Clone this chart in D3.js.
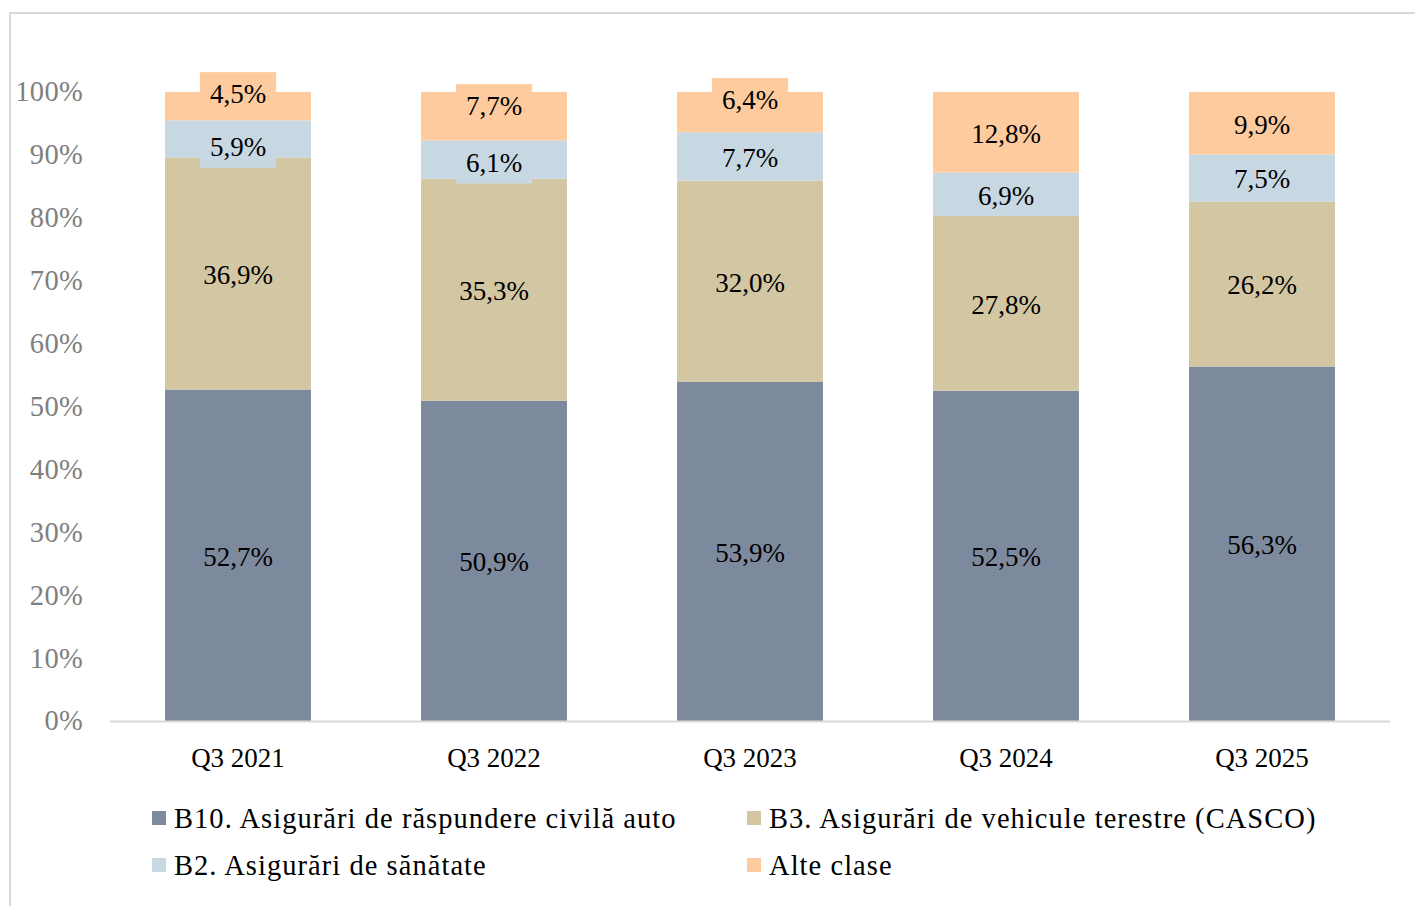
<!DOCTYPE html>
<html>
<head>
<meta charset="utf-8">
<script src="https://cdn.jsdelivr.net/npm/d3@7"></script>
<style>
  html, body { margin: 0; padding: 0; background: #ffffff; }
  svg { display: block; }
  text { font-family: "Liberation Serif", "DejaVu Serif", serif; }
</style>
</head>
<body>
<svg id="chart" width="1415" height="906"></svg>
<script>
// ---- data ----
const categories = ["Q3 2021", "Q3 2022", "Q3 2023", "Q3 2024", "Q3 2025"];
const seriesNames = [
  "B10. Asigurări de răspundere civilă auto",
  "B3. Asigurări de vehicule terestre (CASCO)",
  "B2. Asigurări de sănătate",
  "Alte clase"
];
const b10 = [52.7, 50.9, 53.9, 52.5, 56.3];
const b3 = [36.9, 35.3, 32.0, 27.8, 26.2];
const b2 = [5.9, 6.1, 7.7, 6.9, 7.5];
const alte = [4.5, 7.7, 6.4, 12.8, 9.9];
const yTicks = [0, 0.1, 0.2, 0.3, 0.4, 0.5, 0.6, 0.7, 0.8, 0.9, 1.0];

// ---- styles ----
const colors = ["#7d8a9d", "#d3c6a3", "#c8d8e3", "#fdcb9e"];
// manual label nudges (px) for small segments, keyed "series-category"
const labelNudge = { "3-0": -14, "2-0": 7, "3-1": -12, "2-1": 2, "3-2": -14 };

const svg = d3.select("#chart");

// frame lines
svg.append("line").attr("x1", 10).attr("x2", 1415).attr("y1", 13).attr("y2", 13)
  .attr("stroke", "#d9d9d9").attr("stroke-width", 2);
svg.append("line").attr("x1", 10).attr("x2", 10).attr("y1", 12).attr("y2", 906)
  .attr("stroke", "#d9d9d9").attr("stroke-width", 2);

const rows = categories.map((c, i) => ({ cat: c, s0: b10[i], s1: b3[i], s2: b2[i], s3: alte[i] }));
const keys = ["s0", "s1", "s2", "s3"];
const stacked = d3.stack().keys(keys).offset(d3.stackOffsetExpand)(rows);

const x = d3.scaleBand().domain(categories).range([110, 1390]).paddingInner(0.43).paddingOuter(0.215);
const y = d3.scaleLinear().domain([0, 1]).range([721, 92]);

// y tick labels
svg.append("g").selectAll("text").data(yTicks).join("text")
  .attr("x", 83).attr("y", d => y(d)).attr("dy", "0.33em")
  .attr("text-anchor", "end").attr("fill", "#7f7f7f")
  .style("font-size", "28.5px").style("letter-spacing", "0.3px")
  .text(d => Math.round(d * 100) + "%");

// bars
const g = svg.append("g");
stacked.forEach((layer, si) => {
  g.append("g").selectAll("rect").data(layer).join("rect")
    .attr("x", d => x(d.data.cat))
    .attr("width", x.bandwidth())
    .attr("y", d => y(d[1]))
    .attr("height", d => y(d[0]) - y(d[1]))
    .attr("fill", colors[si]);
});

// baseline
svg.append("line").attr("x1", 110).attr("x2", 1390).attr("y1", y(0) + 0.5).attr("y2", y(0) + 0.5)
  .attr("stroke", "#d9d9d9").attr("stroke-width", 2);

// data labels with filled boxes
const values = [b10, b3, b2, alte];
const lblG = svg.append("g");
stacked.forEach((layer, si) => {
  layer.forEach((d, ci) => {
    const cx = x(d.data.cat) + x.bandwidth() / 2;
    const cy = (y(d[0]) + y(d[1])) / 2 + 1 + (labelNudge[si + "-" + ci] || 0);
    const txt = values[si][ci].toFixed(1).replace(".", ",") + "%";
    const grp = lblG.append("g");
    const rect = grp.append("rect").attr("fill", colors[si]);
    const t = grp.append("text").attr("x", cx).attr("y", cy).attr("dy", "0.35em")
      .attr("text-anchor", "middle").attr("fill", "#000").style("font-size", "27px").text(txt);
    const w = t.node().getComputedTextLength() + 20;
    rect.attr("x", cx - w / 2).attr("y", cy - 21).attr("width", w).attr("height", 42);
  });
});

// x axis labels
svg.append("g").selectAll("text").data(categories).join("text")
  .attr("x", d => x(d) + x.bandwidth() / 2).attr("y", 758).attr("dy", "0.35em")
  .attr("text-anchor", "middle").attr("fill", "#000").style("font-size", "27px")
  .text(d => d);

// legend
const legendPos = [[152, 818], [747, 818], [152, 865], [747, 865]];
const lg = svg.append("g");
seriesNames.forEach((n, i) => {
  const [lx, ly] = legendPos[i];
  lg.append("rect").attr("x", lx).attr("y", ly - 7).attr("width", 14).attr("height", 14).attr("fill", colors[i]);
  lg.append("text").attr("x", lx + 22).attr("y", ly).attr("dy", "0.35em")
    .attr("fill", "#000").style("font-size", "28.5px").style("letter-spacing", "1.05px").text(n);
});
</script>
</body>
</html>
